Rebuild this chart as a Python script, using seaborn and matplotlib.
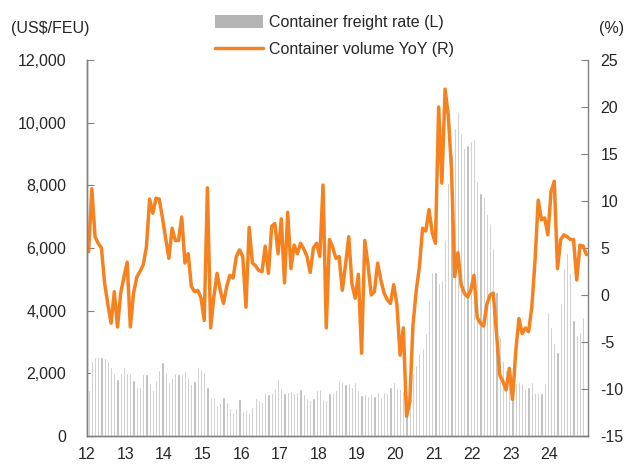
import numpy as np
import pandas as pd
import matplotlib
matplotlib.use('Agg')
import matplotlib.pyplot as plt
import seaborn as sns
from matplotlib.patches import Patch
from matplotlib.lines import Line2D
from matplotlib.ticker import StrMethodFormatter

# monthly data, Jan 2012 .. Dec 2024
year_labels = [str(y) for y in range(12, 25)]

# container freight rate, US$/FEU (left axis)
freight_rate = [
    1467, 2403, 2510, 2510, 2510, 2478, 2403, 2190, 2020, 1808, 2020, 2190,   # 2012
    2020, 2000, 1786, 1573, 1552, 1978, 1978, 1680, 1467, 1786, 2105, 2350,   # 2013
    2030, 1712, 1893, 2000, 1978, 1978, 2084, 1893, 1659, 1765, 2211, 2137,   # 2014
    2030, 1552, 1255, 1255, 978, 1042, 1233, 1074, 904, 755, 883, 1170,       # 2015
    800, 829, 723, 914, 1202, 1160, 1074, 1382, 1329, 1382, 1520, 1807,       # 2016
    1520, 1361, 1414, 1435, 1361, 1393, 1488, 1329, 1202, 1148, 1202, 1467,   # 2017
    1499, 1170, 1148, 1361, 1361, 1467, 1765, 1712, 1648, 1701, 1552, 1712,   # 2018
    1467, 1308, 1340, 1276, 1329, 1287, 1404, 1255, 1393, 1361, 1574, 1733,   # 2019
    1520, 1489, 1435, 1300, 1700, 2000, 2265, 2637, 2800, 3300, 4338, 5242,   # 2020
    5221, 4870, 4976, 6252, 8060, 9000, 9815, 10346, 9655, 9177, 9283, 9411,  # 2021
    9474, 8134, 7741, 7635, 7071, 6752, 5986, 4600, 3150, 2400, 2105, 1733,   # 2022
    1700, 1700, 1733, 1680, 1489, 1552, 1733, 1382, 1361, 1382, 1680, 3966,   # 2023
    3488, 2956, 2690, 4232, 5349, 5827, 5189, 3700, 3222, 3328, 3806, np.nan, # 2024
]

# container volume, YoY % (right axis)
volume_yoy = [
    4.6, 11.3, 6.2, 5.5, 5.0, 1.2, -1.0, -3.0, 0.35, -3.4, 0.2, 1.9,          # 2012
    3.5, -3.4, 0.2, 1.9, 2.5, 3.2, 5.1, 10.2, 8.7, 10.3, 10.2, 8.2,           # 2013
    6.0, 3.9, 7.1, 5.8, 5.8, 8.3, 3.4, 4.4, 0.9, 0.35, 0.5, -0.3,             # 2014
    -2.7, 11.4, -3.5, -0.2, 2.3, 0.5, -0.9, 0.9, 2.1, 1.8, 4.1, 4.8,          # 2015
    4.1, -1.3, 7.2, 3.4, 3.1, 2.6, 2.5, 5.2, 2.3, 7.3, 7.6, 4.4,              # 2016
    8.1, 1.3, 8.8, 2.8, 5.3, 4.4, 5.5, 4.9, 4.1, 2.4, 5.0, 5.5,               # 2017
    4.1, 11.7, -3.5, 5.9, 5.1, 3.9, 4.1, 0.5, 3.2, 6.2, 1.2, -0.35,           # 2018
    2.2, -6.2, 5.8, 3.2, 0.0, 0.35, 3.4, 1.6, 0.2, -0.5, -0.9, 1.1,           # 2019
    -1.0, -6.4, -3.5, -12.9, -11.4, -3.2, 0.4, 3.0, 7.1, 6.8, 9.1, 6.6,       # 2020
    5.5, 20.0, 11.9, 21.9, 19.1, 13.3, 1.95, 4.5, 1.1, 0.2, -0.2, 0.5,        # 2021
    2.1, -2.4, -3.0, -3.3, -1.0, 0.0, 0.2, -4.0, -8.5, -9.2, -10.1, -7.8,     # 2022
    -11.1, -6.0, -2.5, -4.1, -3.5, -3.9, -1.3, 3.6, 10.1, 8.0, 8.2, 6.4,      # 2023
    11.0, 12.1, 2.8, 5.9, 6.4, 6.2, 5.9, 5.9, 1.6, 5.3, 5.2, 4.3,             # 2024
]

BAR_COLOR = '#B4B4B4'
LINE_COLOR = '#F5821F'
AXIS_COLOR = '#808080'
FS = 11.5

sns.set_style('ticks')
plt.rcParams['font.family'] = ['Liberation Sans', 'DejaVu Sans']
plt.rcParams['axes.unicode_minus'] = False

df = pd.DataFrame({'month': np.arange(len(volume_yoy)), 'rate': freight_rate, 'yoy': volume_yoy})

fig = plt.figure(figsize=(6.42, 4.69), dpi=100)
ax = fig.add_axes([87 / 642, 33 / 469, 501 / 642, 376 / 469])

sns.barplot(data=df, x='month', y='rate', order=list(df['month']), color=BAR_COLOR,
            saturation=1, width=0.68, errorbar=None, ax=ax)

ax2 = ax.twinx()
sns.lineplot(data=df, x='month', y='yoy', color=LINE_COLOR, linewidth=2.5, ax=ax2)

# axes ranges
ax.set_ylim(0, 12000)
ax2.set_ylim(-15, 25)
ax.set_xlim(-0.5, len(df) - 0.5)
ax2.set_xlim(-0.5, len(df) - 0.5)

# year ticks on the year boundaries
ax.set_xticks([-0.5 + 12 * k for k in range(len(year_labels))])
ax.set_xticklabels(year_labels)
ax.set_yticks(np.arange(0, 12001, 2000))
ax.yaxis.set_major_formatter(StrMethodFormatter('{x:,.0f}'))
ax2.set_yticks(np.arange(-15, 26, 5))

ax.set_xlabel('')
ax.set_ylabel('')
ax2.set_ylabel('')

ax.tick_params(axis='y', direction='in', length=5, color=AXIS_COLOR, labelsize=FS, pad=15)
ax.tick_params(axis='x', direction='in', length=4, color=AXIS_COLOR, labelsize=FS, pad=8)
ax2.tick_params(axis='y', direction='in', length=5, color=AXIS_COLOR, labelsize=FS, pad=9)

for a in (ax, ax2):
    a.spines['top'].set_visible(False)
    for side in ('left', 'right', 'bottom'):
        a.spines[side].set_color(AXIS_COLOR)
        a.spines[side].set_linewidth(1.0)
ax.spines['right'].set_visible(False)

# unit labels
fig.text(50 / 642, 1 - 28 / 469, '(US$/FEU)', ha='center', va='center', fontsize=FS)
fig.text(612 / 642, 1 - 28 / 469, '(%)', ha='center', va='center', fontsize=FS)

handles = [Patch(facecolor=BAR_COLOR, edgecolor='none'),
           Line2D([], [], color=LINE_COLOR, linewidth=2.5)]
fig.legend(handles, ['Container freight rate (L)', 'Container volume YoY (R)'],
           loc='upper left', bbox_to_anchor=(215 / 642, 1 - 15 / 469), frameon=False,
           fontsize=FS, handlelength=3.0, handleheight=0.9, handletextpad=0.4,
           labelspacing=0.75, borderaxespad=0, borderpad=0)

fig.savefig('out.png', dpi=100)
